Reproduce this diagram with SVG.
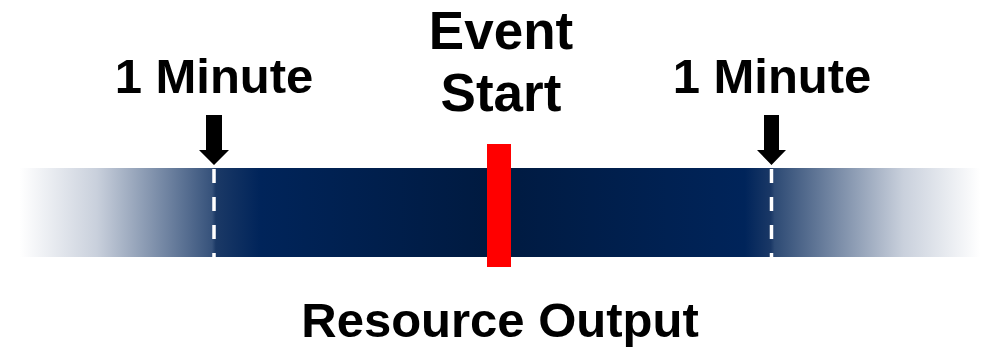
<svg xmlns="http://www.w3.org/2000/svg" width="983" height="350" viewBox="0 0 983 350">
<style>
.t{font-family:"Liberation Sans",Arial,sans-serif;font-weight:bold;font-size:49px;fill:#000;text-anchor:middle}
.big{font-size:53px}
.dash{stroke:#fff;stroke-width:3.5;stroke-dasharray:14 14;fill:none}
</style>
<defs>
<linearGradient id="bar" gradientUnits="userSpaceOnUse" x1="20" y1="0" x2="980" y2="0">
<stop offset="0" stop-color="#ffffff"/>
<stop offset="0.08" stop-color="#c9d0dc"/>
<stop offset="0.2" stop-color="#36527b"/>
<stop offset="0.204" stop-color="#1b3966"/>
<stop offset="0.25" stop-color="#00245a"/>
<stop offset="0.49" stop-color="#001a40"/>
<stop offset="0.755" stop-color="#00245a"/>
<stop offset="0.782" stop-color="#1a3866"/>
<stop offset="0.786" stop-color="#2d4a74"/>
<stop offset="0.92" stop-color="#c9d0dc"/>
<stop offset="1" stop-color="#ffffff"/>
</linearGradient>
</defs>
<g id="bar-node">
<rect x="20" y="168" width="960" height="89" fill="url(#bar)"/>
</g>
<g id="connectors">
<line class="dash" x1="214" y1="169" x2="214" y2="257"/>
<line class="dash" x1="771.5" y1="169" x2="771.5" y2="257"/>
<polygon points="206,115 222,115 222,150 229,150 214,165 199,150 206,150" fill="#000"/>
<polygon points="764,115 779,115 779,150 786,150 771.5,165 757,150 764,150" fill="#000"/>
</g>
<g id="event-marker">
<rect x="487" y="144" width="24" height="123" fill="#ff0000"/>
</g>
<g id="label-left"><text class="t" x="214" y="93">1 Minute</text></g>
<g id="label-right"><text class="t" x="772" y="93">1 Minute</text></g>
<g id="label-event"><text class="t big" x="501" y="49">Event</text><text class="t big" x="501" y="111">Start</text></g>
<g id="label-output"><text class="t" x="500" y="337">Resource Output</text></g>
</svg>
